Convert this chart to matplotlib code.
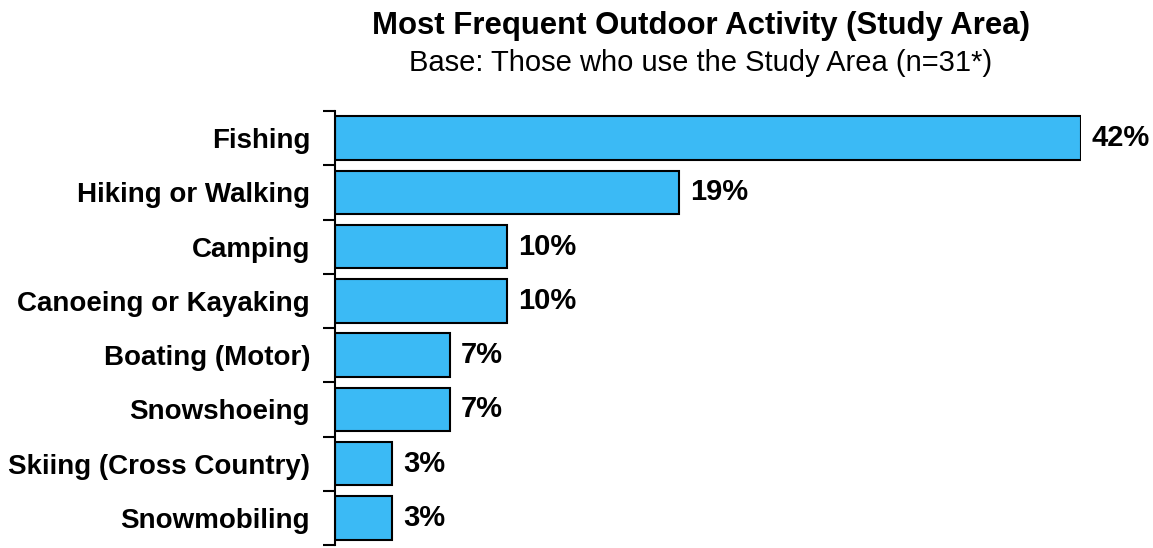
import matplotlib.pyplot as plt
import numpy as np

plt.rcParams['font.family'] = ['Liberation Sans', 'DejaVu Sans']

activities = ['Fishing', 'Hiking or Walking', 'Camping', 'Canoeing or Kayaking',
              'Boating (Motor)', 'Snowshoeing', 'Skiing (Cross Country)', 'Snowmobiling']
counts = [13, 6, 3, 3, 2, 2, 1, 1]
n_base = 31
pct = [c / n_base * 100 for c in counts]
labels = ['42%', '19%', '10%', '10%', '7%', '7%', '3%', '3%']

fig = plt.figure(figsize=(11.53, 5.48), dpi=100)
ax = fig.add_axes([335 / 1153, 1 - 545 / 548, (1081 - 335) / 1153, (545 - 111) / 548])

y = np.arange(len(activities))
ax.barh(y, pct, height=0.8, color='#3BBAF5', edgecolor='black', linewidth=1.5)
for yi, p, lab in zip(y, pct, labels):
    ax.text(p + 0.6, yi, lab, va='center', ha='left', fontsize=21, fontweight='bold')

ax.set_xlim(0, max(pct))
ax.set_ylim(len(activities) - 0.5, -0.5)
ax.set_yticks(y)
ax.set_yticklabels(activities, fontsize=20, fontweight='bold')
ax.tick_params(axis='y', which='major', length=0, pad=18)
ax.set_yticks(np.arange(-0.5, len(activities)), minor=True)
ax.tick_params(axis='y', which='minor', length=9, width=1.5, direction='out')
ax.set_xticks([])
for s in ['top', 'right', 'bottom']:
    ax.spines[s].set_visible(False)
ax.spines['left'].set_linewidth(1.5)

fig.text(701 / 1153, 1 - 34 / 548, 'Most Frequent Outdoor Activity (Study Area)',
         ha='center', va='baseline', fontsize=22.4, fontweight='bold')
fig.text(701 / 1153, 1 - 71 / 548, 'Base: Those who use the Study Area (n=31*)',
         ha='center', va='baseline', fontsize=21)

fig.savefig('out.png', dpi=100)
